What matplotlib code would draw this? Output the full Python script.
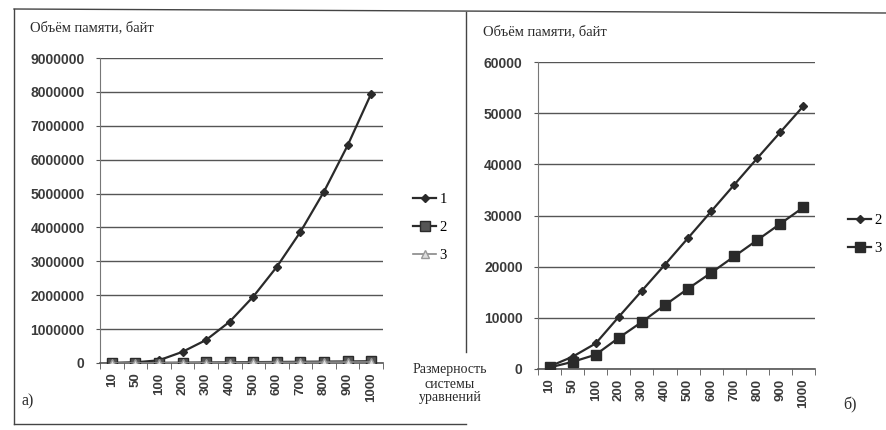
import matplotlib
matplotlib.use("Agg")
import matplotlib.pyplot as plt
from matplotlib.lines import Line2D

categories = ["10", "50", "100", "200", "300", "400", "500", "600", "700", "800", "900", "1000"]
series1 = [800, 20000, 80000, 330000, 680000, 1220000, 1960000, 2840000, 3870000, 5060000, 6420000, 7950000]
series2 = [500, 2400, 5000, 10200, 15300, 20400, 25600, 30800, 36000, 41200, 46300, 51400]
series3 = [300, 1400, 2800, 6100, 9200, 12500, 15700, 18800, 22000, 25200, 28400, 31600]
yticks_left = [0, 1000000, 2000000, 3000000, 4000000, 5000000, 6000000, 7000000, 8000000, 9000000]
yticks_right = [0, 10000, 20000, 30000, 40000, 50000, 60000]

W, H = 886, 430
fig = plt.figure(figsize=(W / 100, H / 100), dpi=100)
fig.patch.set_facecolor("white")

ink = "#2a2a2a"
grid = "#555555"
sans = ["Liberation Sans", "DejaVu Sans"]
serif = ["Liberation Serif", "DejaVu Serif"]

def fx(px):
    return px / W

def fy(py):
    return 1 - py / H

def setup(ax, yticks):
    x = list(range(len(categories)))
    ax.set_xlim(-0.5, len(categories) - 0.5)
    ax.set_ylim(yticks[0], yticks[-1])
    ax.set_yticks(yticks)
    ax.set_yticklabels([str(v) for v in yticks], fontsize=10, fontweight="bold",
                       color="#3a3a3a", family=sans)
    ax.set_xticks(x)
    ax.set_xticklabels(categories, rotation=90, fontsize=9.5, fontweight="bold",
                       color="#3a3a3a", family=sans)
    ax.set_xticks([i - 0.5 for i in range(len(categories) + 1)], minor=True)
    ax.tick_params(axis="x", which="major", length=0, pad=7)
    ax.tick_params(axis="x", which="minor", length=4, color=grid, direction="out")
    ax.tick_params(axis="y", length=3, color=grid, pad=8)
    ax.grid(axis="y", color=grid, linewidth=1.0)
    ax.set_axisbelow(True)
    for s in ["top", "right"]:
        ax.spines[s].set_visible(False)
    ax.spines["left"].set_color("#777777")
    ax.spines["bottom"].set_color(grid)
    ax.spines["bottom"].set_linewidth(1.2)
    return x

# Left panel
axl = fig.add_axes([fx(100), fy(363), fx(383 - 100), (363 - 58) / H])
x = setup(axl, yticks_left)
axl.plot(x, series1, color=ink, lw=1.6, marker="D", ms=4.5, mfc=ink, mec=ink, label="1", zorder=3)
axl.plot(x, series2, color=ink, lw=1.6, marker="s", ms=7, mfc="#555555", mec=ink, label="2", zorder=3)
axl.plot(x, series3, color="#888888", lw=1.2, marker="^", ms=5.5, mfc="#dddddd", mec="#999999", label="3", zorder=4)
axl.legend(loc="upper left", bbox_to_anchor=(fx(400), fy(180)), bbox_transform=fig.transFigure,
           frameon=False, handlelength=1.6, labelspacing=1.0, handletextpad=0.2,
           prop={"family": serif, "size": 10.5})

# Right panel
axr = fig.add_axes([fx(538), fy(369), fx(815 - 538), (369 - 62) / H])
x = setup(axr, yticks_right)
axr.plot(x, series2, color=ink, lw=1.6, marker="D", ms=4.5, mfc=ink, mec=ink, label="2", zorder=3)
axr.plot(x, series3, color=ink, lw=1.6, marker="s", ms=7.5, mfc=ink, mec=ink, label="3", zorder=3)
axr.legend(loc="upper left", bbox_to_anchor=(fx(835), fy(201)), bbox_transform=fig.transFigure,
           frameon=False, handlelength=1.6, labelspacing=1.0, handletextpad=0.2,
           prop={"family": serif, "size": 10.5})

# Texts
fig.text(fx(30), fy(28), "Объём памяти, байт", family=serif, fontsize=10.5, color=ink, va="center")
fig.text(fx(483), fy(32), "Объём памяти, байт", family=serif, fontsize=10.5, color=ink, va="center")
fig.text(fx(450), fy(384), "Размерность\nсистемы\nуравнений", family=serif, fontsize=10,
         color=ink, ha="center", va="center", linespacing=1.1)
fig.text(fx(22), fy(401), "а)", family=serif, fontsize=11.5, color=ink, va="center")
fig.text(fx(843), fy(405), "б)", family=serif, fontsize=11.5, color=ink, va="center")

# Frame lines
frame = dict(color="#444444", lw=1.0, transform=fig.transFigure)
fig.add_artist(Line2D([fx(14), fx(886)], [fy(9), fy(13)], **frame))
fig.add_artist(Line2D([fx(14), fx(14)], [fy(9), fy(424)], **frame))
fig.add_artist(Line2D([fx(14), fx(466)], [fy(424), fy(424)], **frame))
fig.add_artist(Line2D([fx(466), fx(466)], [fy(12), fy(352)], **frame))

fig.savefig("out.png", dpi=100, facecolor="white")
